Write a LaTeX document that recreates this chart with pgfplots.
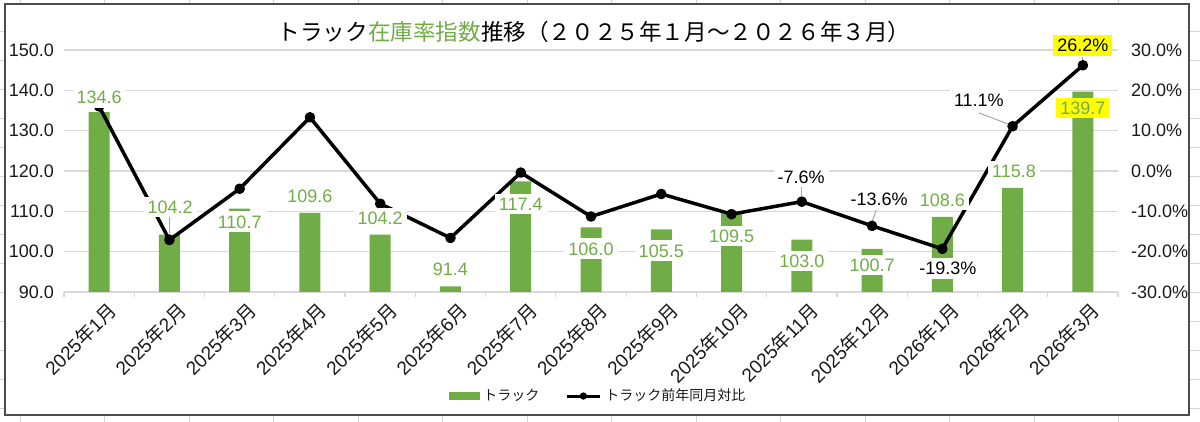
\documentclass[border=0pt]{standalone}
\usepackage{pgfplots}
\pgfplotsset{compat=1.18}
\usepackage{fontspec}
\setmainfont{Liberation Sans}
\newfontfamily\jp{Noto Sans CJK JP}
\definecolor{barg}{HTML}{70AD47}
\definecolor{gridc}{HTML}{D9D9D9}
\definecolor{txt}{HTML}{1A1A1A}
\definecolor{cellc}{HTML}{D4D4D4}
\definecolor{lead}{HTML}{A6A6A6}
\definecolor{ylw}{HTML}{FFFF00}
\begin{document}
\begin{tikzpicture}[x=0.5pt,y=0.5pt,
  blab/.style={fill=white, text=barg, inner sep=2pt, font=\fontsize{9}{10}\selectfont},
  llab/.style={fill=white, text=black, inner sep=2pt, font=\fontsize{9}{10}\selectfont}]
\useasboundingbox (0,0) rectangle (1200,422);
\fill[white] (0,0) rectangle (1200,422);
\foreach \i in {0,...,13} { \draw[cellc, line width=0.5pt] ({20+84.5*\i},0) -- ({20+84.5*\i},422); }
\foreach \j in {0,...,13} { \draw[cellc, line width=0.5pt] (0,{422-32-29*\j}) -- (1200,{422-32-29*\j}); }
\filldraw[fill=white, draw=black!70, line width=0.7pt] (5,7) rectangle (1189,418);
\node at (594,390) {\jp\fontsize{11.3}{13}\selectfont トラック\textcolor{barg}{在庫率指数}推移（２０２５年１月～２０２６年３月）};

% bars
\begin{axis}[
  at={(32pt,65pt)}, anchor=south west,
  scale only axis, width=527pt, height=121pt,
  xmin=-0.5, xmax=14.5, ymin=90, ymax=150,
  /pgf/number format/assume math mode=true,
  axis x line*=bottom, axis y line*=left,
  y axis line style={draw=none},
  x axis line style={gridc, line width=0.8pt},
  ytick={90,100,...,150},
  y tick label style={/pgf/number format/fixed,/pgf/number format/fixed zerofill,/pgf/number format/precision=1,
    font=\fontsize{9}{10}\selectfont, text=txt, anchor=east, xshift=-1.5pt},
  xtick={0,...,14},
  xticklabels={2025{\jp 年}1{\jp 月},2025{\jp 年}2{\jp 月},2025{\jp 年}3{\jp 月},2025{\jp 年}4{\jp 月},2025{\jp 年}5{\jp 月},2025{\jp 年}6{\jp 月},2025{\jp 年}7{\jp 月},2025{\jp 年}8{\jp 月},2025{\jp 年}9{\jp 月},2025{\jp 年}10{\jp 月},2025{\jp 年}11{\jp 月},2025{\jp 年}12{\jp 月},2026{\jp 年}1{\jp 月},2026{\jp 年}2{\jp 月},2026{\jp 年}3{\jp 月}},
  x tick label style={rotate=45, anchor=north east, inner sep=0pt, yshift=-5.5pt, xshift=-0.5pt,
    font=\fontsize{9.5}{10}\selectfont, text=txt},
  minor xtick={-0.5,0.5,...,14.5},
  major tick length=0pt, minor tick length=2.5pt, tick align=outside,
  minor tick style={gridc, line width=0.6pt},
  ymajorgrids, grid style={gridc, line width=0.6pt},
]
\addplot[ybar, bar width=10.5pt, fill=barg, draw=none] coordinates {
 (0,134.6) (1,104.2) (2,110.7) (3,109.6) (4,104.2) (5,91.4) (6,117.4) (7,106.0)
 (8,105.5) (9,109.5) (10,103.0) (11,100.7) (12,108.6) (13,115.8) (14,139.7)};
\end{axis}

% line
\begin{axis}[
  at={(32pt,65pt)}, anchor=south west,
  scale only axis, width=527pt, height=121pt,
  xmin=-0.5, xmax=14.5, ymin=-30, ymax=30, clip=false,
  /pgf/number format/assume math mode=true,
  axis x line=none, axis y line*=right,
  y axis line style={draw=none},
  major tick length=0pt,
  ytick={-30,-20,...,30},
  yticklabel={\pgfmathprintnumber[fixed,fixed zerofill,precision=1]{\tick}\%},
  y tick label style={font=\fontsize{9}{10}\selectfont, text=txt, anchor=west, xshift=3pt},
  legend style={at={(0.5076,-0.43)}, anchor=center, draw=none, fill=none,
    font=\jp\fontsize{7}{8}\selectfont, text=txt, inner sep=0pt,
    /tikz/every even column/.append style={column sep=11pt}},
  legend columns=2,
]
\addlegendimage{legend image code/.code={\fill[barg] (0pt,-1.75pt) rectangle (15pt,1.75pt);}}
\addlegendentry{トラック}
\addlegendimage{legend image code/.code={\draw[black,line width=1.5pt] (0pt,0pt) -- (16.5pt,0pt); \fill[black] (8.25pt,0pt) circle (1.6pt);}}
\addlegendentry{トラック前年同月対比}
\addplot[forget plot, black, line width=1.75pt, line join=round, mark=*, mark size=1.75pt] coordinates {
 (0,16.0) (1,-17.1) (2,-4.4) (3,13.3) (4,-8.1) (5,-16.6) (6,-0.4) (7,-11.3)
 (8,-5.7) (9,-10.7) (10,-7.6) (11,-13.6) (12,-19.3) (13,11.1) (14,26.2)};
\draw[lead, line width=0.5pt] (axis cs:1,-11.5) -- (axis cs:1,-16.3);
\draw[lead, line width=0.5pt] (axis cs:12.52,14.4) -- (axis cs:12.93,11.7);
\draw[lead, line width=0.5pt] (axis cs:14,28.3) -- (axis cs:14,27.0);
\draw[lead, line width=0.5pt] (axis cs:9.99,-4.0) -- (axis cs:9.99,-6.5);
\draw[lead, line width=0.5pt] (axis cs:11.07,-9.2) -- (axis cs:11.0,-12.6);
\node[llab] at (axis cs:9.99,-1.5) {-7.6\%};
\node[llab] at (axis cs:11.1,-7.0) {-13.6\%};
\node[llab] at (axis cs:12.08,-24.1) {-19.3\%};
\node[llab] at (axis cs:12.52,17.6) {11.1\%};
\node[llab, fill=ylw] at (axis cs:14,31.2) {26.2\%};
\end{axis}

% bar labels
\begin{axis}[
  at={(32pt,65pt)}, anchor=south west,
  scale only axis, width=527pt, height=121pt,
  xmin=-0.5, xmax=14.5, ymin=90, ymax=150, clip=false, hide axis,
]
\node[blab] at (axis cs:0,138.3) {134.6};
\node[blab] at (axis cs:1.01,111.1) {104.2};
\node[blab] at (axis cs:2,107.4) {110.7};
\node[blab] at (axis cs:3,113.8) {109.6};
\node[blab] at (axis cs:4,108.3) {104.2};
\node[blab] at (axis cs:5,95.7) {91.4};
\node[blab] at (axis cs:6,111.8) {117.4};
\node[blab] at (axis cs:7,100.7) {106.0};
\node[blab] at (axis cs:8,100.2) {105.5};
\node[blab] at (axis cs:9,103.9) {109.5};
\node[blab] at (axis cs:10,97.7) {103.0};
\node[blab] at (axis cs:11,96.7) {100.7};
\node[blab] at (axis cs:12,112.8) {108.6};
\node[blab] at (axis cs:13.02,120.0) {115.8};
\node[blab, fill=ylw] at (axis cs:14,135.6) {139.7};
\end{axis}
\end{tikzpicture}
\end{document}
